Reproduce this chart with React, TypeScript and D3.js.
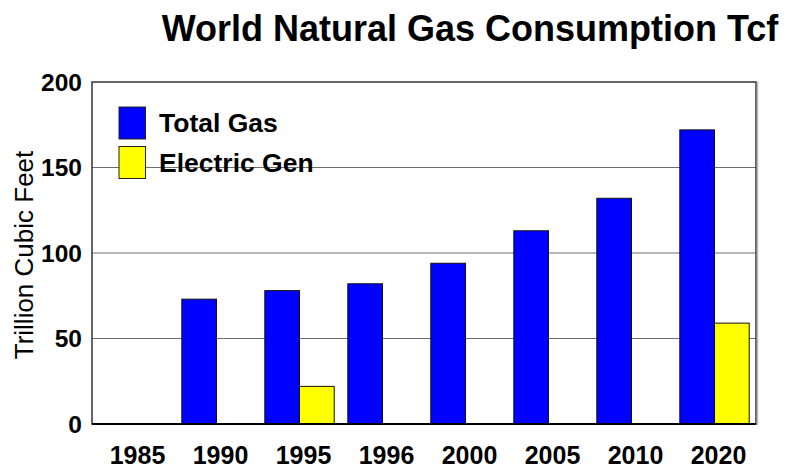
import * as d3 from 'd3';

const years = ['1985', '1990', '1995', '1996', '2000', '2005', '2010', '2020'];
const totalGas = [null, 73, 78, 82, 94, 113, 132, 172];
const electricGen = [null, null, 22, null, null, null, null, 59];
const seriesNames = ['Total Gas', 'Electric Gen'];
const seriesColors = ['#0000ff', '#ffff00'];
const yTicks = [0, 50, 100, 150, 200];

const W = 793;
const H = 468;
const margin = { top: 82, right: 37, bottom: 44, left: 92 };

export default function App() {
  const innerW = W - margin.left - margin.right;
  const innerH = H - margin.top - margin.bottom;

  const x0 = d3.scaleBand<string>().domain(years).range([0, innerW]).padding(0);
  const x1 = d3.scaleBand<string>()
    .domain(seriesNames)
    .range([0, x0.bandwidth()])
    .paddingInner(0)
    .paddingOuter(0.196);
  const y = d3.scaleLinear().domain([0, 200]).range([innerH, 0]);

  const series = [totalGas, electricGen];
  const font = 'Arial, "Liberation Sans", Helvetica, sans-serif';

  return (
    <svg width={W} height={H} style={{ position: 'absolute', left: 0, top: 0, background: '#fff' }} fontFamily={font}>
      <text x={470} y={41} textAnchor="middle" fontSize={36} fontWeight="bold" fill="#000">
        World Natural Gas Consumption Tcf
      </text>

      <text
        transform={`translate(33,${margin.top + innerH / 2 + 2}) rotate(-90)`}
        textAnchor="middle"
        fontSize={26}
        fill="#000"
      >
        Trillion Cubic Feet
      </text>

      <g transform={`translate(${margin.left},${margin.top})`}>
        {yTicks.filter((t) => t > 0 && t < 200).map((t) => (
          <line key={t} x1={0} x2={innerW} y1={y(t)} y2={y(t)} stroke="#6e6e6e" strokeWidth={1.2} />
        ))}

        {yTicks.map((t) => (
          <text key={t} x={-10} y={y(t)} dy="0.36em" textAnchor="end" fontSize={24.5} fontWeight="bold" fill="#000">
            {t}
          </text>
        ))}

        {years.map((yr, i) => (
          <g key={yr} transform={`translate(${x0(yr)},0)`}>
            {series.map((s, j) => {
              const v = s[i];
              if (v == null) return null;
              return (
                <rect
                  key={j}
                  x={x1(seriesNames[j])}
                  y={y(v)}
                  width={x1.bandwidth()}
                  height={innerH - y(v)}
                  fill={seriesColors[j]}
                  stroke="#111"
                  strokeWidth={1}
                />
              );
            })}
            <text
              x={x0.bandwidth() / 2 + 4}
              y={innerH + 40}
              textAnchor="middle"
              fontSize={25}
              fontWeight="bold"
              fill="#000"
            >
              {yr}
            </text>
          </g>
        ))}

        <rect x={0} y={0} width={innerW} height={innerH} fill="none" stroke="#333" strokeWidth={1.5} />
        <line x1={innerW + 1.5} x2={innerW + 1.5} y1={0} y2={innerH + 1} stroke="#bbb" strokeWidth={1.5} />
        <line x1={0} x2={innerW} y1={innerH} y2={innerH} stroke="#000" strokeWidth={2} />

        {seriesNames.map((name, j) => (
          <g key={name} transform={`translate(${119 - margin.left},${107 - margin.top + j * 39.5})`}>
            <rect x={0} y={0} width={26.5} height={32} fill={seriesColors[j]} stroke="#222" strokeWidth={1} />
            <text x={40} y={25} fontSize={26.5} fontWeight="bold" fill="#000">
              {name}
            </text>
          </g>
        ))}
      </g>
    </svg>
  );
}
